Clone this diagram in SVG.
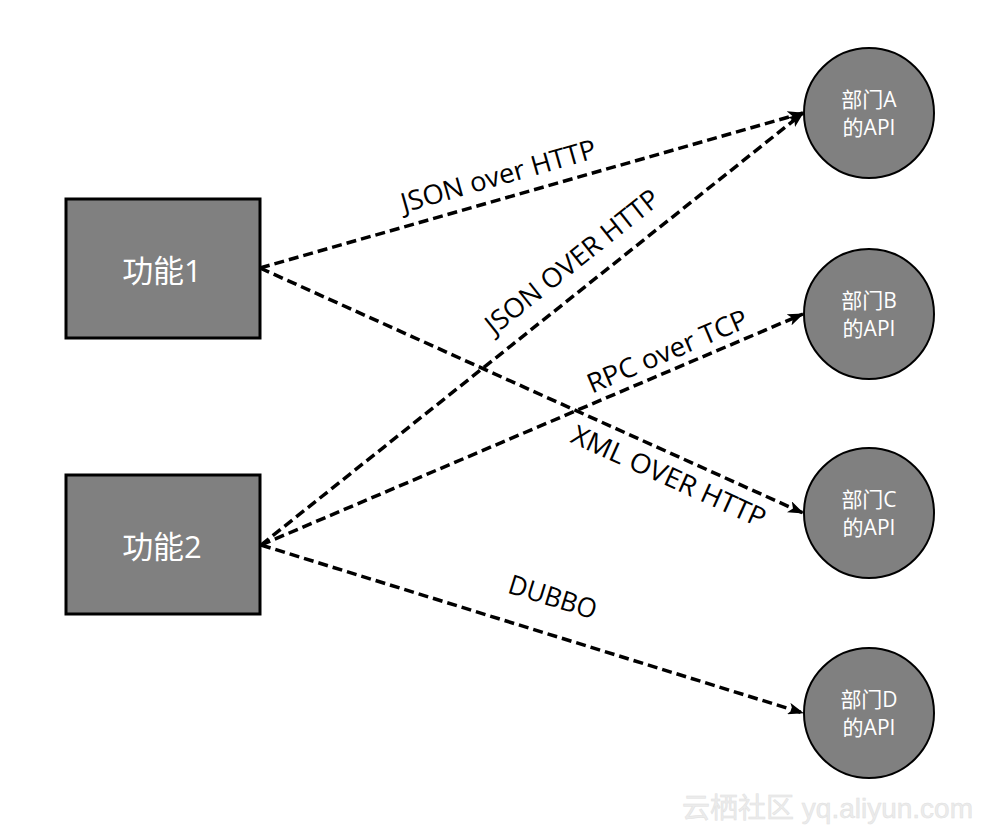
<svg xmlns="http://www.w3.org/2000/svg" width="986" height="836" viewBox="0 0 986 836">
<defs>
<style>
.box{fill:#808080;stroke:#000;stroke-width:3}
.api{fill:#808080;stroke:#000;stroke-width:2}
.nt{font-family:"Open Sans","Noto Sans CJK SC",sans-serif;fill:#fff;text-anchor:middle}
.ct{font-family:"Open Sans","Noto Sans CJK SC",sans-serif;fill:#fff;text-anchor:middle;font-size:21px}
.edge{fill:none;stroke:#000;stroke-width:3.5;stroke-dasharray:10 5;marker-end:url(#arr)}
.lbl{font-family:"Open Sans","Liberation Sans",sans-serif;font-size:27px;fill:#000;text-anchor:middle}
</style>
<marker id="arr" markerUnits="userSpaceOnUse" markerWidth="16" markerHeight="12" refX="15" refY="6" orient="auto">
<path d="M0,0 L16,6 L0,12 L4,6 Z" fill="#000"/>
</marker>
</defs>
<rect width="986" height="836" fill="#fff"/>
<g id="connectors">
<line class="edge" x1="260" y1="268" x2="803" y2="113"/>
<line class="edge" x1="260" y1="268" x2="803" y2="513"/>
<line class="edge" x1="261" y1="545" x2="803" y2="113"/>
<line class="edge" x1="261" y1="545" x2="803" y2="314"/>
<line class="edge" x1="261" y1="545" x2="803" y2="713"/>
<text class="lbl" transform="translate(501,185) rotate(-15.9)" textLength="202" lengthAdjust="spacingAndGlyphs">JSON over HTTP</text>
<text class="lbl" transform="translate(578,269) rotate(-38.5)" textLength="214" lengthAdjust="spacingAndGlyphs">JSON OVER HTTP</text>
<text class="lbl" transform="translate(671,360) rotate(-23.1)" textLength="172" lengthAdjust="spacingAndGlyphs">RPC over TCP</text>
<text class="lbl" transform="translate(665,485) rotate(24.3)" textLength="210" lengthAdjust="spacingAndGlyphs">XML OVER HTTP</text>
<text class="lbl" transform="translate(550,606) rotate(17.2)" textLength="91" lengthAdjust="spacingAndGlyphs">DUBBO</text>
</g>
<g id="f1">
<rect class="box" x="66" y="199" width="194" height="139"/>
<text class="nt" x="162" y="282" font-size="31">功能1</text>
</g>
<g id="f2">
<rect class="box" x="66" y="475" width="194" height="139"/>
<text class="nt" x="162" y="558" font-size="31">功能2</text>
</g>
<g id="apiA">
<circle class="api" cx="869" cy="113" r="65"/>
<text class="ct" x="869" y="107">部门A</text>
<text class="ct" x="869" y="135">的API</text>
</g>
<g id="apiB">
<circle class="api" cx="869" cy="314" r="65"/>
<text class="ct" x="869" y="308">部门B</text>
<text class="ct" x="869" y="336">的API</text>
</g>
<g id="apiC">
<circle class="api" cx="869" cy="513" r="65"/>
<text class="ct" x="869" y="507">部门C</text>
<text class="ct" x="869" y="535">的API</text>
</g>
<g id="apiD">
<circle class="api" cx="869" cy="713" r="65"/>
<text class="ct" x="869" y="707">部门D</text>
<text class="ct" x="869" y="735">的API</text>
</g>
<text x="973" y="818" font-family="'Liberation Sans','Noto Sans CJK SC',sans-serif" font-size="28" fill="#ececec" stroke="#e0e0e0" stroke-width="0.5" text-anchor="end">云栖社区 yq.aliyun.com</text>
</svg>
